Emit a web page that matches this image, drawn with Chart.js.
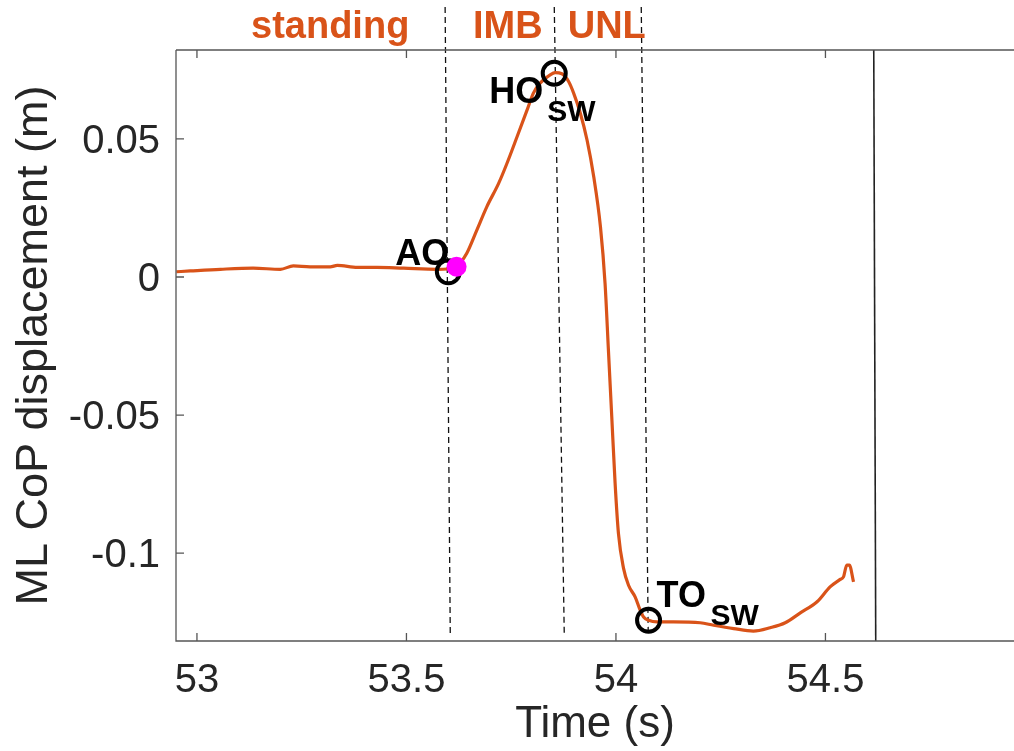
<!DOCTYPE html>
<html><head><meta charset="utf-8">
<script src="https://cdn.jsdelivr.net/npm/chart.js@4.4.1/dist/chart.umd.min.js"></script>
<style>html,body{margin:0;padding:0;background:#fff;overflow:hidden}canvas{display:block}</style>
</head><body><canvas id="c" width="1014" height="751" style="width:1014px;height:751px"></canvas>
<script>
// ---- data ----
const timeS = [52.951,52.984,53.056,53.134,53.199,53.230,53.270,53.318,53.335,53.383,53.430,53.493,53.574,53.598,53.609,
  53.619,53.628,53.644,53.668,53.692,53.720,53.740,53.764,53.788,53.803,53.819,53.843,53.855,53.871,53.887,53.899,53.915,
  53.931,53.947,53.963,53.974,53.982,53.990,53.998,54.006,54.018,54.030,54.046,54.058,54.066,54.078,54.098,54.137,54.201,
  54.233,54.281,54.328,54.368,54.404,54.440,54.480,54.511,54.535,54.543,54.551,54.557,54.567];
const mlCoP = [0.0019,0.0022,0.0028,0.0032,0.0028,0.0040,0.0037,0.0037,0.0042,0.0035,0.0035,0.0032,0.0028,0.0029,0.0031,
  0.0037,0.0050,0.0086,0.0170,0.0255,0.0339,0.0412,0.0508,0.0605,0.0666,0.0702,0.0732,0.0740,0.0736,0.0708,0.0666,0.0593,
  0.0496,0.0363,0.0182,-0.0023,-0.0264,-0.0506,-0.0747,-0.0929,-0.1054,-0.1116,-0.1159,-0.1207,-0.1231,-0.1243,-0.1249,-0.1249,-0.1252,
  -0.1261,-0.1273,-0.1282,-0.1270,-0.1252,-0.1216,-0.1176,-0.1122,-0.1095,-0.1086,-0.1043,-0.1043,-0.1104];

const xTicks = [53, 53.5, 54, 54.5];
const xTickLabels = ['53', '53.5', '54', '54.5'];
const yTicks = [-0.1, -0.05, 0, 0.05];
const yTickLabels = ['-0.1', '-0.05', '0', '0.05'];

const eventNames = ['AO', 'HO', 'TO'];
const eventSub = ['', 'SW', 'SW'];
const eventTime = [53.600, 53.8527, 54.0778];
const eventCoP = [0.0019, 0.0738, -0.1243];

const apaTime = [53.6196];
const apaCoP = [0.0037];

const phaseNames = ['standing', 'IMB', 'UNL'];
const phaseCenterTime = [53.318, 53.742, 53.978];

const boundaryTopTime = [53.5923, 53.8528, 54.0604];
const boundaryBottomTime = [53.6046, 53.8767, 54.0771];
const boundaryTopCoP = 0.0978;
const boundaryBottomCoP = -0.1301;

const endLineTime = [54.6153, 54.6200];

const xMin = 52.95, xMax = 54.95;
const yMin = -0.1318, yMax = 0.0822;

// ---- styles ----
const ORANGE = '#D95319';
const FONT = '"Liberation Sans", Arial, Helvetica, sans-serif';
const AXIS_COLOR = '#555555';
const TEXT_COLOR = '#262626';

const datasets = [];
datasets.push({ label: 'apa', data: apaTime.map((t, i) => ({x: t, y: apaCoP[i]})),
  pointRadius: 10, pointHoverRadius: 10, pointBackgroundColor: '#FF00FF', backgroundColor: '#FF00FF',
  pointBorderWidth: 0, borderWidth: 0, pointBorderColor: '#FF00FF', showLine: false });
datasets.push({ label: 'events', data: eventTime.map((t, i) => ({x: t, y: eventCoP[i]})),
  pointRadius: 11.5, pointHoverRadius: 11.5, pointBackgroundColor: 'rgba(0,0,0,0)', backgroundColor: 'rgba(0,0,0,0)',
  pointBorderColor: '#000', borderColor: '#000', pointBorderWidth: 4, borderWidth: 4, showLine: false, clip: false });
datasets.push({ label: 'cop', data: timeS.map((t, i) => ({x: t, y: mlCoP[i]})),
  showLine: true, borderColor: ORANGE, borderWidth: 3.2, pointRadius: 0, tension: 0.3, cubicInterpolationMode: 'monotone' });
boundaryTopTime.forEach((t, i) => {
  datasets.push({ label: 'b' + i, data: [{x: t, y: boundaryTopCoP}, {x: boundaryBottomTime[i], y: boundaryBottomCoP}],
    showLine: true, borderColor: '#111', borderWidth: 1.3, borderDash: [6, 4], pointRadius: 0, clip: false });
});
datasets.push({ label: 'end', data: [{x: endLineTime[0], y: yMax}, {x: endLineTime[1], y: yMin}],
  showLine: true, borderColor: '#222', borderWidth: 1.6, pointRadius: 0 });

const decor = {
  id: 'decor',
  afterDraw(chart) {
    const ctx = chart.ctx, a = chart.chartArea, xs = chart.scales.x, ys = chart.scales.y;
    ctx.save();
    ctx.strokeStyle = AXIS_COLOR; ctx.lineWidth = 1.3;
    ctx.beginPath();
    ctx.moveTo(a.left, a.top); ctx.lineTo(a.right, a.top);
    ctx.moveTo(a.left, a.top); ctx.lineTo(a.left, a.bottom); ctx.lineTo(a.right, a.bottom);
    xTicks.forEach(v => { const p = xs.getPixelForValue(v);
      ctx.moveTo(p, a.bottom); ctx.lineTo(p, a.bottom - 8);
      ctx.moveTo(p, a.top); ctx.lineTo(p, a.top + 8); });
    yTicks.forEach(v => { const p = ys.getPixelForValue(v);
      ctx.moveTo(a.left, p); ctx.lineTo(a.left + 8, p); });
    ctx.stroke();

    // phase labels
    ctx.fillStyle = ORANGE; ctx.font = 'bold 38px ' + FONT; ctx.textAlign = 'center'; ctx.textBaseline = 'alphabetic';
    phaseNames.forEach((n, i) => ctx.fillText(n, xs.getPixelForValue(phaseCenterTime[i]), 38));

    // event labels
    ctx.fillStyle = '#000';
    const px = eventTime.map(t => xs.getPixelForValue(t));
    const py = eventCoP.map(v => ys.getPixelForValue(v));
    ctx.font = 'bold 36px ' + FONT;
    ctx.textAlign = 'right'; ctx.fillText(eventNames[0], px[0] + 1, py[0] - 6.5);
    ctx.fillText(eventNames[1], px[1] - 11, py[1] + 30);
    ctx.textAlign = 'left'; ctx.fillText(eventNames[2], px[2] + 8, py[2] - 13);
    ctx.font = 'bold 30px ' + FONT;
    ctx.fillText(eventSub[1], px[1] - 7, py[1] + 48);
    ctx.fillText(eventSub[2], px[2] + 62, py[2] + 5);
    ctx.restore();
  }
};

new Chart(document.getElementById('c'), {
  type: 'scatter',
  data: { datasets },
  options: {
    responsive: false, maintainAspectRatio: false, devicePixelRatio: 1, animation: false,
    events: [],
    layout: { autoPadding: false, padding: { top: 50, left: 0, right: 0, bottom: 0 } },
    plugins: { legend: { display: false }, tooltip: { enabled: false } },
    scales: {
      x: {
        type: 'linear', min: xMin, max: xMax,
        afterFit: s => { s.height = 110; },
        afterBuildTicks: s => { s.ticks = xTicks.map(v => ({value: v})); },
        ticks: { callback: (v) => xTickLabels[xTicks.indexOf(v)] ?? '', color: TEXT_COLOR, font: { family: FONT, size: 40 }, padding: 16, maxRotation: 0, autoSkip: false },
        grid: { display: false, drawTicks: false },
        border: { display: false },
        title: { display: true, text: 'Time (s)', color: TEXT_COLOR, font: { family: FONT, size: 44 }, padding: { top: 0, bottom: 0 } }
      },
      y: {
        type: 'linear', min: yMin, max: yMax,
        afterFit: s => { s.width = 176; },
        afterBuildTicks: s => { s.ticks = yTicks.map(v => ({value: v})); },
        ticks: { callback: (v) => yTickLabels[yTicks.indexOf(v)] ?? '', color: TEXT_COLOR, font: { family: FONT, size: 40 }, padding: 16, labelOffset: 3, autoSkip: false },
        grid: { display: false, drawTicks: false },
        border: { display: false },
        title: { display: true, text: 'ML CoP displacement (m)', color: TEXT_COLOR, font: { family: FONT, size: 45 }, padding: { top: 8, bottom: 0 } }
      }
    }
  },
  plugins: [decor]
});
</script></body></html>
